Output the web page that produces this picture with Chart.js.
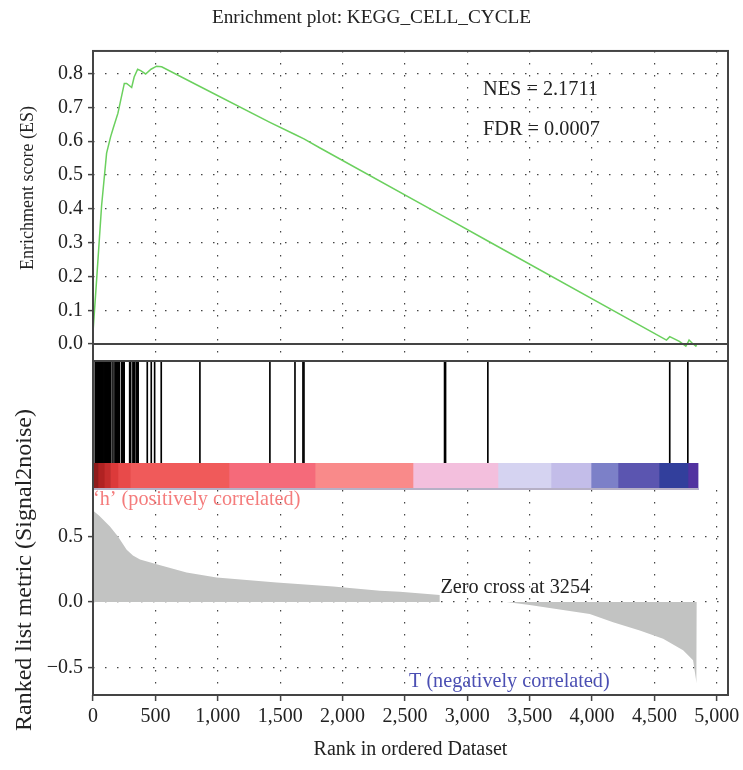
<!DOCTYPE html>
<html>
<head>
<meta charset="utf-8">
<script src="https://cdn.jsdelivr.net/npm/chart.js@4.4.1/dist/chart.umd.min.js"></script>
<style>
body { margin: 0; background: #fff; }
#wrap { position: relative; width: 743px; height: 770px; }
canvas { position: absolute; left: 0; }
</style>
</head>
<body>
<div id="wrap">
<canvas id="esChart" width="743" height="362" style="top:0"></canvas>
<canvas id="hitChart" width="743" height="102" style="top:361px"></canvas>
<canvas id="barChart" width="743" height="27" style="top:463px"></canvas>
<canvas id="metricChart" width="743" height="390" style="top:380px"></canvas>
</div>
<script>
// running enrichment score
var esRanks = [0, 29, 69, 109, 141, 163, 200, 251, 270, 310, 330, 358, 382, 422, 465, 510, 550, 857, 1418, 1619, 1691, 1820, 2818, 3165, 4597, 4623, 4700, 4752, 4768, 4778, 4800, 4832, 4840];
var esValues = [0.035, 0.19, 0.41, 0.565, 0.613, 0.64, 0.683, 0.771, 0.771, 0.759, 0.79, 0.813, 0.809, 0.799, 0.813, 0.822, 0.820, 0.762, 0.656, 0.62, 0.607, 0.58, 0.376, 0.305, 0.012, 0.022, 0.008, -0.006, 0.004, 0.012, 0.004, -0.006, -0.004];

// gene set hits in the ranked list
var hitRanks = [2, 18, 25, 32, 39, 46, 53, 60, 67, 74, 81, 88, 95, 102, 109, 116, 123, 130, 137, 143, 160, 176, 183, 190, 197, 204, 211, 229, 236, 243, 250, 294, 302, 320, 327, 334, 348, 355, 362, 435, 467, 494, 547, 857, 1418, 1619, 1683, 1691, 2818, 2826, 3165, 4623, 4768];

// ranked list metric (gap where nothing is filled)
var metricRanks = [0, 50, 136, 200, 270, 320, 377, 510, 750, 991, 1472, 1926, 2300, 2460, 2780, 2790, 3315, 3500, 3982, 4169, 4383, 4570, 4730, 4810, 4832, 4837, 4840];
var metricValues = [0.70, 0.66, 0.578, 0.50, 0.40, 0.355, 0.326, 0.288, 0.225, 0.187, 0.149, 0.119, 0.086, 0.078, 0.053, null, 0.0, -0.023, -0.091, -0.154, -0.217, -0.28, -0.369, -0.445, -0.583, -0.62, -0.62];

// colour bar blocks along the ranks
var barStarts = [0, 40, 90, 140, 200, 300, 1090, 1780, 2565, 3246, 3671, 3992, 4208, 4537, 4769];
var barEnds = [40, 90, 140, 200, 300, 1090, 1780, 2565, 3246, 3671, 3992, 4208, 4537, 4769, 4850];

var xTicks = [0, 500, 1000, 1500, 2000, 2500, 3000, 3500, 4000, 4500, 5000];
var esTicks = [0, 0.1, 0.2, 0.3, 0.4, 0.5, 0.6, 0.7, 0.8];
var metricTicks = [-0.5, 0, 0.5];
var nes = '2.1711', fdr = '0.0007', zeroCross = 3254;

// styles
var barColors = ['#8e1c1c', '#b02222', '#c42c2c', '#dc3a3a', '#e84a4a', '#f05a5a', '#f56a7a', '#f98a8a', '#f3bfdd', '#d5d3f1', '#c3bde9', '#7c80c8', '#5b55b0', '#323f9c', '#5232a0'];
var FAMILY = '"Liberation Serif", "Times New Roman", serif';
var FRAME = '#444';
var DASH = [1.5, 10.5];

function fixWidth(w) {
    return function (s) { s.width = w; s.paddingTop = 0; s.paddingBottom = 0; };
}
function fixHeight(h) {
    return function (s) { s.height = h; s.paddingLeft = 0; s.paddingRight = 0; };
}
function keepTicks(list) {
    return function (s) { s.ticks = list.map(function (v) { return { value: v }; }); };
}
function points(xs, ys) {
    return xs.map(function (x, i) { return { x: x, y: ys[i] }; });
}
function vline(c, x, y1, y2) {
    c.beginPath(); c.moveTo(x, y1); c.lineTo(x, y2); c.stroke();
}

var esDecor = {
    id: 'esDecor',
    afterDraw: function (chart) {
        var c = chart.ctx, a = chart.chartArea, y = chart.scales.y;
        c.save();
        c.strokeStyle = FRAME;
        c.lineWidth = 2;
        c.strokeRect(a.left, a.top, a.right - a.left, a.bottom - a.top);
        var y0 = Math.round(y.getPixelForValue(0));
        c.beginPath(); c.moveTo(a.left, y0); c.lineTo(a.right, y0); c.stroke();
        c.fillStyle = '#222';
        c.font = '20.3px ' + FAMILY;
        c.textBaseline = 'middle';
        c.textAlign = 'left';
        c.fillText('NES = ' + nes, 483, 90);
        c.fillText('FDR = ' + fdr, 483, 130);
        c.font = '18px ' + FAMILY;
        c.translate(28, 188);
        c.rotate(-Math.PI / 2);
        c.textAlign = 'center';
        c.fillText('Enrichment score (ES)', 0, 0);
        c.restore();
    }
};

var sides = {
    id: 'sides',
    afterDraw: function (chart) {
        var c = chart.ctx, a = chart.chartArea;
        c.save();
        c.strokeStyle = FRAME;
        c.lineWidth = 2;
        vline(c, a.left, 0, chart.height);
        vline(c, a.right, 0, chart.height);
        c.restore();
    }
};

var barEdge = {
    id: 'barEdge',
    afterDatasetsDraw: function (chart) {
        var c = chart.ctx, x = chart.scales.x;
        c.save();
        c.strokeStyle = '#b6b0c6';
        c.lineWidth = 2;
        c.beginPath();
        c.moveTo(x.getPixelForValue(barStarts[0]), chart.height - 1);
        c.lineTo(x.getPixelForValue(barEnds[barEnds.length - 1]), chart.height - 1);
        c.stroke();
        c.restore();
    }
};

var metricDecor = {
    id: 'metricDecor',
    afterDraw: function (chart) {
        var c = chart.ctx, a = chart.chartArea, x = chart.scales.x, y = chart.scales.y;
        c.save();
        c.strokeStyle = FRAME;
        c.lineWidth = 2;
        vline(c, a.left, a.top, a.bottom + 1);
        vline(c, a.right, a.top, a.bottom + 1);
        c.beginPath(); c.moveTo(a.left, a.bottom); c.lineTo(a.right, a.bottom); c.stroke();
        c.font = '20.2px ' + FAMILY;
        c.textBaseline = 'middle';
        c.textAlign = 'left';
        c.fillStyle = '#f47c7c';
        c.fillText('\u2018h\u2019 (positively correlated)', a.left, a.top + 10);
        c.fillStyle = '#222';
        c.fillText('Zero cross at ' + zeroCross, x.getPixelForValue(2785), y.getPixelForValue(0) - 14);
        c.fillStyle = '#4b4fb3';
        c.fillText('T (negatively correlated)', 409, a.bottom - 13);
        c.fillStyle = '#222';
        c.font = '24px ' + FAMILY;
        c.translate(25, 190);
        c.rotate(-Math.PI / 2);
        c.textAlign = 'center';
        c.fillText('Ranked list metric (Signal2noise)', 0, 0);
        c.restore();
    }
};

var font = { family: FAMILY, size: 20, weight: 'normal' };
var titleFont = { family: FAMILY, size: 19.3, weight: 'normal' };
var quiet = { legend: { display: false }, tooltip: { enabled: false } };

new Chart(document.getElementById('esChart'), {
    type: 'line',
    data: {
        datasets: [{
            data: points(esRanks, esValues),
            borderColor: '#6bd05e',
            borderWidth: 1.5,
            pointRadius: 0,
            tension: 0
        }]
    },
    options: {
        responsive: false,
        animation: false,
        layout: { padding: { left: 15, right: 15, top: 0, bottom: 0 } },
        plugins: {
            legend: { display: false },
            tooltip: { enabled: false },
            title: {
                display: true,
                text: 'Enrichment plot: KEGG_CELL_CYCLE',
                color: '#222',
                font: titleFont,
                padding: { top: 6.4, bottom: 21.4 }
            }
        },
        scales: {
            x: {
                type: 'linear', min: 0, max: 5090,
                afterBuildTicks: keepTicks(xTicks),
                afterFit: fixHeight(1),
                ticks: { display: false },
                grid: { color: FRAME, lineWidth: 1.2, drawTicks: false },
                border: { display: false, dash: DASH }
            },
            y: {
                min: -0.05, max: 0.867,
                afterBuildTicks: keepTicks(esTicks),
                afterFit: fixWidth(78),
                ticks: { color: '#222', font: font, padding: 5, callback: function (v) { return v.toFixed(1); } },
                grid: { color: FRAME, lineWidth: 1.2, tickLength: 5, tickColor: FRAME, tickWidth: 1.5 },
                border: { display: false, dash: DASH }
            }
        }
    },
    plugins: [esDecor]
});

new Chart(document.getElementById('hitChart'), {
    type: 'bar',
    data: {
        datasets: [{
            data: hitRanks.map(function (r) { return { x: r, y: 1 }; }),
            backgroundColor: '#000',
            barThickness: 1
        }]
    },
    options: {
        responsive: false,
        animation: false,
        layout: { padding: { left: 93, right: 15, top: 1, bottom: 0 } },
        plugins: quiet,
        scales: {
            x: { type: 'linear', min: 0, max: 5090, offset: false, display: false },
            y: { min: 0, max: 1, display: false }
        }
    },
    plugins: [sides]
});

new Chart(document.getElementById('barChart'), {
    type: 'bar',
    data: {
        labels: [''],
        datasets: barStarts.map(function (s, i) {
            return {
                data: [[s, barEnds[i]]],
                backgroundColor: barColors[i],
                grouped: false,
                barPercentage: 1,
                categoryPercentage: 1,
                borderWidth: 0
            };
        })
    },
    options: {
        indexAxis: 'y',
        responsive: false,
        animation: false,
        layout: { padding: { left: 93, right: 15, top: 0, bottom: 0 } },
        plugins: quiet,
        scales: {
            x: { type: 'linear', min: 0, max: 5090, offset: false, display: false },
            y: { display: false }
        }
    },
    plugins: [sides, barEdge]
});

new Chart(document.getElementById('metricChart'), {
    type: 'line',
    data: {
        datasets: [{
            data: points(metricRanks, metricValues),
            borderColor: 'rgba(0,0,0,0)',
            borderWidth: 0,
            pointRadius: 0,
            fill: 'origin',
            backgroundColor: '#c2c3c2',
            spanGaps: false,
            tension: 0
        }]
    },
    options: {
        responsive: false,
        animation: false,
        layout: { padding: { left: 0, right: 15, top: 110, bottom: 0 } },
        plugins: quiet,
        scales: {
            x: {
                type: 'linear', min: 0, max: 5090,
                afterBuildTicks: keepTicks(xTicks),
                afterFit: fixHeight(75),
                ticks: { color: '#222', font: font, padding: 4, maxRotation: 0, autoSkip: false },
                grid: { color: FRAME, lineWidth: 1.2, tickLength: 6, tickColor: FRAME, tickWidth: 1.5 },
                border: { display: false, dash: DASH },
                title: { display: true, text: 'Rank in ordered Dataset', color: '#222', font: font, padding: { top: 0, bottom: 8 } }
            },
            y: {
                min: -0.71, max: 0.856,
                afterBuildTicks: keepTicks(metricTicks),
                afterFit: fixWidth(93),
                ticks: {
                    color: '#222', font: font, padding: 5,
                    callback: function (v) { return v < 0 ? '\u2212' + Math.abs(v).toFixed(1) : v.toFixed(1); }
                },
                grid: { color: FRAME, lineWidth: 1.2, tickLength: 5, tickColor: FRAME, tickWidth: 1.5 },
                border: { display: false, dash: DASH }
            }
        }
    },
    plugins: [metricDecor]
});
</script>
</body>
</html>
